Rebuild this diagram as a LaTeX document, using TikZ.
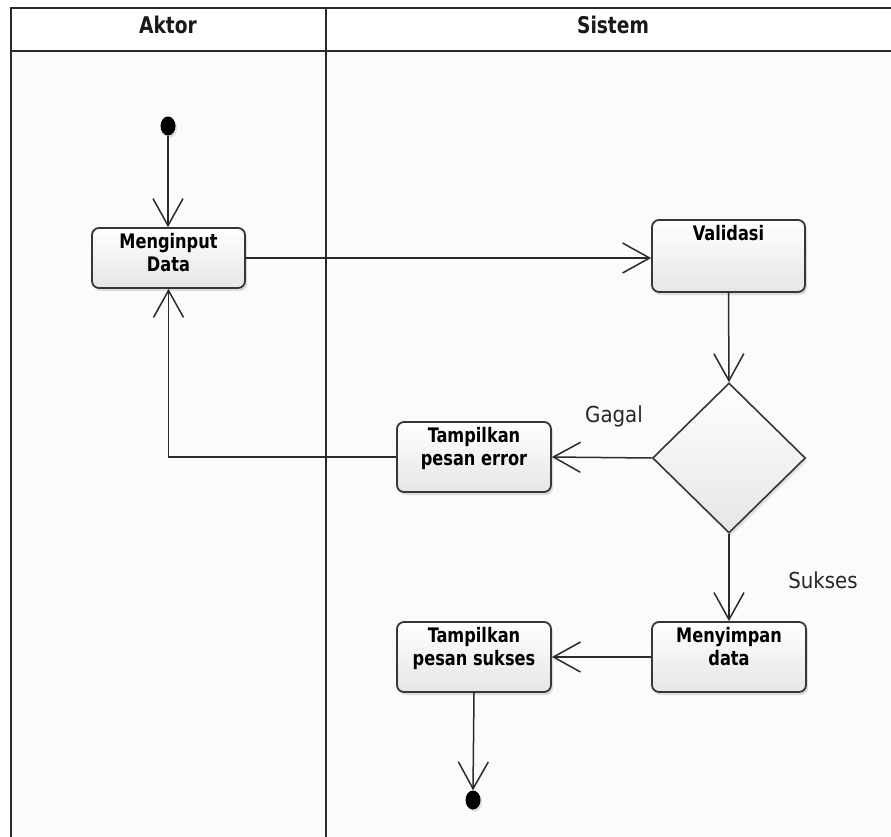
\documentclass[tikz,border=0pt]{standalone}
\usepackage{fontspec}
\newfontfamily\cond{DejaVu Sans Condensed}
\newfontfamily\condT{DejaVu Sans Condensed}[FakeStretch=0.9]
\usetikzlibrary{arrows.meta,shapes.geometric,shadows}
\definecolor{ln}{HTML}{2A2A2A}
\definecolor{bx}{HTML}{363636}
\newcommand\acttxt[2]{\parbox[c][#1][t]{150pt}{\centering #2}}
\begin{document}
\begin{tikzpicture}[x=1pt,y=-1pt,
  lane/.style={draw=ln, line width=1.5pt},
  act/.style={draw=bx, line width=1.8pt, rounded corners=7pt, top color=white, bottom color=black!10,
    inner sep=0pt, font=\condT\bfseries\fontsize{20}{23.5}\selectfont,
    drop shadow={shadow xshift=2pt, shadow yshift=-3pt, opacity=0.25}},
  dec/.style={diamond, draw=bx, line width=1.6pt, top color=white, bottom color=black!10,
    minimum width=153pt, minimum height=150pt, inner sep=0pt,
    drop shadow={shadow xshift=2pt, shadow yshift=-3pt, opacity=0.2}},
  dot/.style={ellipse, fill=black, minimum width=15pt, minimum height=19pt, inner sep=0pt,
    drop shadow={shadow xshift=1.5pt, shadow yshift=-2pt, opacity=0.25}},
  flow/.style={draw=ln, line width=1.5pt, -{Straight Barb[length=27pt,width=30pt,line width=1.5pt]}},
  hdr/.style={font=\condT\bfseries\fontsize{23}{26}\selectfont, text=black!90},
  guard/.style={font=\cond\fontsize{22}{26}\selectfont, text=black!85}
]
\clip (0,0) rectangle (891,836);
\fill[white] (0,0) rectangle (891,836);
\fill[black!1.5] (11,51) rectangle (905,845);
\draw[lane] (905,8) -- (11,8) -- (11,845);
\draw[lane] (326,8) -- (326,845);
\draw[lane, line width=2pt] (11,51) -- (905,51);
\node[hdr] (hA) at (168,25) {Aktor};
\node[hdr] (hS) at (613,25) {Sistem};

\node[dot] (start) at (168,126) {};
\node[act, minimum width=153pt, minimum height=60pt] (input) at (168.5,258) {\acttxt{50pt}{Menginput\\Data}};
\node[act, minimum width=153pt, minimum height=72pt] (valid) at (728.5,256) {\acttxt{62pt}{Validasi}};
\node[dec] (dec) at (729,458) {};
\node[act, minimum width=154pt, minimum height=70pt] (err) at (474,457) {\acttxt{60pt}{Tampilkan\\pesan error}};
\node[act, minimum width=154pt, minimum height=70pt] (save) at (729,657) {\acttxt{60pt}{Menyimpan\\data}};
\node[act, minimum width=154pt, minimum height=70pt] (ok) at (474,657) {\acttxt{60pt}{Tampilkan\\pesan sukses}};
\node[dot] (end) at (473,800) {};
\node[guard] (gagal) at (614,416) {Gagal};
\node[guard] (sukses) at (823,580) {Sukses};

\draw[flow] (start.south) -- (start.south |- input.north);
\draw[flow] (input.east) -- (valid.west |- input.east);
\draw[flow] (valid.south) -- (dec.north);
\draw[flow] (dec.west) -- (err.east);
\draw[flow] (err.west) -| (input.south);
\draw[flow] (dec.south) -- (save.north);
\draw[flow] (save.west) -- (ok.east);
\draw[flow] (ok.south) -- (end.north);
\end{tikzpicture}
\end{document}
